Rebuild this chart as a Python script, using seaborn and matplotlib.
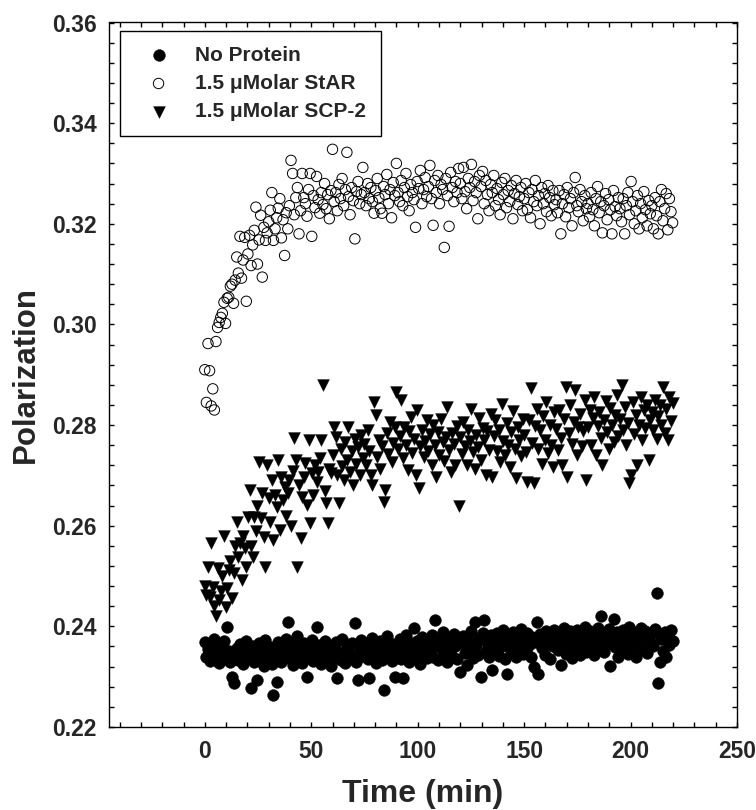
import numpy as np
import pandas as pd
import matplotlib
matplotlib.use("Agg")
import matplotlib.pyplot as plt
import seaborn as sns
from matplotlib.ticker import MultipleLocator

# sampling interval of the recordings (min)
dt = 0.75

no_protein = [
    0.2368, 0.2340, 0.2355, 0.2332, 0.2362, 0.2346, 0.2374, 0.2338, 0.2350, 0.2328, 0.2360, 0.2344, 0.2370, 0.2336, 0.2399, 0.2352, 0.2330, 0.2299, 0.2287, 0.2348,
    0.2356, 0.2334, 0.2364, 0.2342, 0.2325, 0.2352, 0.2370, 0.2338, 0.2346, 0.2277, 0.2360, 0.2330, 0.2348, 0.2293, 0.2366, 0.2340, 0.2354, 0.2322, 0.2372, 0.2344,
    0.2336, 0.2358, 0.2326, 0.2264, 0.2350, 0.2290, 0.2368, 0.2342, 0.2330, 0.2362, 0.2344, 0.2374, 0.2409, 0.2338, 0.2356, 0.2324, 0.2364, 0.2346, 0.2380, 0.2334,
    0.2352, 0.2328, 0.2366, 0.2340, 0.2299, 0.2358, 0.2344, 0.2372, 0.2332, 0.2354, 0.2399, 0.2338, 0.2362, 0.2326, 0.2348, 0.2370, 0.2336, 0.2356, 0.2342, 0.2322,
    0.2360, 0.2340, 0.2368, 0.2297, 0.2350, 0.2334, 0.2374, 0.2346, 0.2328, 0.2362, 0.2352, 0.2338, 0.2366, 0.2344, 0.2406, 0.2330, 0.2293, 0.2356, 0.2372, 0.2342,
    0.2350, 0.2364, 0.2336, 0.2297, 0.2358, 0.2376, 0.2342, 0.2328, 0.2362, 0.2348, 0.2370, 0.2334, 0.2273, 0.2356, 0.2380, 0.2340, 0.2366, 0.2332, 0.2352, 0.2299,
    0.2362, 0.2344, 0.2374, 0.2336, 0.2297, 0.2358, 0.2382, 0.2348, 0.2330, 0.2366, 0.2352, 0.2397, 0.2340, 0.2370, 0.2356, 0.2326, 0.2378, 0.2346, 0.2364, 0.2338,
    0.2368, 0.2350, 0.2382, 0.2340, 0.2412, 0.2362, 0.2334, 0.2374, 0.2356, 0.2388, 0.2346, 0.2366, 0.2330, 0.2378, 0.2358, 0.2342, 0.2384, 0.2360, 0.2336, 0.2372,
    0.2309, 0.2366, 0.2380, 0.2348, 0.2323, 0.2372, 0.2356, 0.2390, 0.2338, 0.2408, 0.2362, 0.2344, 0.2376, 0.2299, 0.2386, 0.2412, 0.2352, 0.2368, 0.2340, 0.2382,
    0.2313, 0.2370, 0.2354, 0.2386, 0.2342, 0.2374, 0.2360, 0.2392, 0.2336, 0.2305, 0.2366, 0.2380, 0.2350, 0.2388, 0.2358, 0.2340, 0.2376, 0.2364, 0.2394, 0.2346,
    0.2372, 0.2352, 0.2386, 0.2362, 0.2340, 0.2378, 0.2319, 0.2368, 0.2408, 0.2305, 0.2384, 0.2356, 0.2374, 0.2344, 0.2390, 0.2364, 0.2336, 0.2380, 0.2360, 0.2392,
    0.2376, 0.2354, 0.2388, 0.2323, 0.2368, 0.2396, 0.2346, 0.2380, 0.2360, 0.2390, 0.2338, 0.2374, 0.2356, 0.2392, 0.2366, 0.2344, 0.2384, 0.2362, 0.2398, 0.2350,
    0.2374, 0.2390, 0.2356, 0.2382, 0.2344, 0.2368, 0.2396, 0.2360, 0.2420, 0.2378, 0.2350, 0.2386, 0.2364, 0.2394, 0.2321, 0.2372, 0.2414, 0.2358, 0.2388, 0.2340,
    0.2378, 0.2356, 0.2392, 0.2366, 0.2384, 0.2346, 0.2398, 0.2372, 0.2360, 0.2388, 0.2340, 0.2380, 0.2364, 0.2396, 0.2354, 0.2376, 0.2390, 0.2348, 0.2384, 0.2368,
    0.2386, 0.2360, 0.2394, 0.2466, 0.2287, 0.2329, 0.2374, 0.2352, 0.2388, 0.2340, 0.2380, 0.2362, 0.2392, 0.2370,
]

star = [
    0.2910, 0.2845, 0.2962, 0.2908, 0.2838, 0.2872, 0.2830, 0.2966, 0.2994, 0.3004, 0.3014, 0.3022, 0.3044, 0.3002, 0.3052, 0.3054, 0.3076, 0.3080, 0.3042, 0.3088,
    0.3134, 0.3102, 0.3175, 0.3092, 0.3128, 0.3173, 0.3046, 0.3140, 0.3177, 0.3117, 0.3158, 0.3187, 0.3233, 0.3120, 0.3168, 0.3217, 0.3094, 0.3193, 0.3167, 0.3182,
    0.3204, 0.3227, 0.3262, 0.3167, 0.3190, 0.3212, 0.3231, 0.3250, 0.3172, 0.3208, 0.3137, 0.3222, 0.3190, 0.3236, 0.3326, 0.3300, 0.3218, 0.3252, 0.3272, 0.3180,
    0.3226, 0.3300, 0.3252, 0.3240, 0.3215, 0.3268, 0.3300, 0.3175, 0.3256, 0.3232, 0.3294, 0.3248, 0.3221, 0.3262, 0.3238, 0.3280, 0.3230, 0.3258, 0.3210, 0.3266,
    0.3348, 0.3244, 0.3262, 0.3226, 0.3278, 0.3250, 0.3290, 0.3236, 0.3268, 0.3342, 0.3254, 0.3218, 0.3272, 0.3246, 0.3170, 0.3264, 0.3284, 0.3240, 0.3258, 0.3312,
    0.3262, 0.3236, 0.3280, 0.3250, 0.3272, 0.3244, 0.3221, 0.3266, 0.3290, 0.3252, 0.3230, 0.3221, 0.3274, 0.3258, 0.3298, 0.3240, 0.3268, 0.3212, 0.3282, 0.3256,
    0.3320, 0.3262, 0.3244, 0.3286, 0.3236, 0.3272, 0.3300, 0.3254, 0.3226, 0.3278, 0.3262, 0.3248, 0.3193, 0.3284, 0.3270, 0.3306, 0.3240, 0.3268, 0.3292, 0.3254,
    0.3274, 0.3316, 0.3250, 0.3197, 0.3286, 0.3262, 0.3296, 0.3240, 0.3278, 0.3268, 0.3153, 0.3290, 0.3256, 0.3195, 0.3302, 0.3272, 0.3244, 0.3284, 0.3262, 0.3310,
    0.3280, 0.3250, 0.3312, 0.3264, 0.3230, 0.3290, 0.3272, 0.3318, 0.3246, 0.3284, 0.3262, 0.3210, 0.3296, 0.3274, 0.3304, 0.3240, 0.3286, 0.3258, 0.3226, 0.3278,
    0.3262, 0.3296, 0.3236, 0.3270, 0.3248, 0.3218, 0.3282, 0.3258, 0.3290, 0.3232, 0.3266, 0.3244, 0.3276, 0.3210, 0.3260, 0.3286, 0.3238, 0.3254, 0.3272, 0.3226,
    0.3250, 0.3280, 0.3228, 0.3262, 0.3212, 0.3268, 0.3244, 0.3286, 0.3236, 0.3256, 0.3200, 0.3272, 0.3240, 0.3260, 0.3224, 0.3276, 0.3252, 0.3216, 0.3266, 0.3238,
    0.3248, 0.3222, 0.3266, 0.3180, 0.3240, 0.3258, 0.3214, 0.3272, 0.3232, 0.3250, 0.3196, 0.3262, 0.3292, 0.3236, 0.3224, 0.3268, 0.3244, 0.3206, 0.3256, 0.3230,
    0.3240, 0.3214, 0.3262, 0.3228, 0.3196, 0.3250, 0.3274, 0.3222, 0.3244, 0.3182, 0.3236, 0.3260, 0.3208, 0.3248, 0.3228, 0.3180, 0.3266, 0.3234, 0.3216, 0.3252,
    0.3230, 0.3204, 0.3250, 0.3180, 0.3236, 0.3262, 0.3218, 0.3284, 0.3244, 0.3200, 0.3226, 0.3256, 0.3190, 0.3240, 0.3212, 0.3264, 0.3228, 0.3196, 0.3246, 0.3220,
    0.3236, 0.3190, 0.3252, 0.3216, 0.3180, 0.3244, 0.3268, 0.3206, 0.3230, 0.3260, 0.3188, 0.3250, 0.3224, 0.3202,
]

scp2 = [
    0.2480, 0.2462, 0.2518, 0.2458, 0.2566, 0.2478, 0.2440, 0.2420, 0.2516, 0.2452, 0.2470, 0.2500, 0.2580, 0.2438, 0.2476, 0.2512, 0.2530, 0.2456, 0.2506, 0.2560,
    0.2607, 0.2538, 0.2565, 0.2492, 0.2580, 0.2555, 0.2518, 0.2617, 0.2671, 0.2560, 0.2538, 0.2617, 0.2590, 0.2640, 0.2726, 0.2615, 0.2665, 0.2577, 0.2518, 0.2720,
    0.2655, 0.2607, 0.2690, 0.2571, 0.2661, 0.2638, 0.2730, 0.2591, 0.2696, 0.2651, 0.2676, 0.2620, 0.2665, 0.2690, 0.2600, 0.2708, 0.2774, 0.2730, 0.2518, 0.2680,
    0.2575, 0.2657, 0.2696, 0.2724, 0.2642, 0.2770, 0.2605, 0.2704, 0.2661, 0.2720, 0.2686, 0.2706, 0.2734, 0.2770, 0.2879, 0.2668, 0.2645, 0.2605, 0.2712, 0.2704,
    0.2740, 0.2796, 0.2776, 0.2700, 0.2645, 0.2752, 0.2718, 0.2690, 0.2766, 0.2730, 0.2796, 0.2706, 0.2748, 0.2680, 0.2772, 0.2722, 0.2756, 0.2700, 0.2780, 0.2734,
    0.2762, 0.2720, 0.2790, 0.2748, 0.2700, 0.2680, 0.2845, 0.2820, 0.2736, 0.2770, 0.2712, 0.2758, 0.2647, 0.2670, 0.2784, 0.2742, 0.2806, 0.2726, 0.2764, 0.2796,
    0.2865, 0.2752, 0.2778, 0.2850, 0.2734, 0.2796, 0.2760, 0.2710, 0.2788, 0.2816, 0.2744, 0.2772, 0.2700, 0.2830, 0.2675, 0.2758, 0.2790, 0.2736, 0.2768, 0.2810,
    0.2748, 0.2782, 0.2720, 0.2800, 0.2760, 0.2696, 0.2786, 0.2740, 0.2812, 0.2766, 0.2728, 0.2776, 0.2836, 0.2750, 0.2706, 0.2784, 0.2762, 0.2720, 0.2798, 0.2639,
    0.2776, 0.2742, 0.2806, 0.2758, 0.2720, 0.2790, 0.2768, 0.2832, 0.2746, 0.2712, 0.2780, 0.2756, 0.2814, 0.2730, 0.2794, 0.2770, 0.2700, 0.2788, 0.2750, 0.2822,
    0.2696, 0.2778, 0.2810, 0.2748, 0.2790, 0.2726, 0.2842, 0.2768, 0.2740, 0.2804, 0.2760, 0.2716, 0.2786, 0.2828, 0.2752, 0.2694, 0.2796, 0.2770, 0.2738, 0.2812,
    0.2780, 0.2746, 0.2686, 0.2810, 0.2873, 0.2764, 0.2685, 0.2798, 0.2832, 0.2752, 0.2790, 0.2722, 0.2818, 0.2770, 0.2846, 0.2744, 0.2800, 0.2760, 0.2716, 0.2826,
    0.2792, 0.2750, 0.2830, 0.2774, 0.2720, 0.2812, 0.2875, 0.2696, 0.2784, 0.2840, 0.2762, 0.2806, 0.2869, 0.2740, 0.2796, 0.2822, 0.2758, 0.2788, 0.2850, 0.2690,
    0.2796, 0.2830, 0.2760, 0.2814, 0.2856, 0.2740, 0.2798, 0.2826, 0.2774, 0.2720, 0.2810, 0.2848, 0.2786, 0.2752, 0.2834, 0.2800, 0.2766, 0.2820, 0.2860, 0.2778,
    0.2812, 0.2879, 0.2790, 0.2836, 0.2760, 0.2804, 0.2685, 0.2700, 0.2846, 0.2782, 0.2820, 0.2720, 0.2800, 0.2856, 0.2770, 0.2830, 0.2794, 0.2840, 0.2730, 0.2810,
    0.2826, 0.2790, 0.2850, 0.2772, 0.2818, 0.2840, 0.2800, 0.2875, 0.2784, 0.2832, 0.2770, 0.2856, 0.2808, 0.2844,
]

labels = ["No Protein", "1.5 \u03bcMolar StAR", "1.5 \u03bcMolar SCP-2"]
x_ticks = [0, 50, 100, 150, 200, 250]
y_ticks = [0.22, 0.24, 0.26, 0.28, 0.30, 0.32, 0.34, 0.36]

sns.set_style("ticks")
fam = ["Liberation Sans", "DejaVu Sans"]
plt.rcParams["font.family"] = fam
plt.rcParams["font.weight"] = "bold"

fig = plt.figure(figsize=(7.56, 8.1), dpi=100)
ax = fig.add_axes([109 / 756, 1 - 727 / 810, 628 / 756, 704.5 / 810])

def frame(vals):
    return pd.DataFrame({"Time": np.arange(len(vals)) * dt, "Polarization": vals})

d0, d1, d2 = frame(no_protein), frame(star), frame(scp2)

sns.scatterplot(data=d0, x="Time", y="Polarization", ax=ax, marker="o", s=72,
                color="black", edgecolor="black", linewidth=0.3, label=labels[0], zorder=3)
sns.scatterplot(data=d1, x="Time", y="Polarization", ax=ax, marker="o", s=56,
                facecolor="none", edgecolor="black", linewidth=0.7, label=labels[1], zorder=3)
sns.scatterplot(data=d2, x="Time", y="Polarization", ax=ax, marker="v", s=72,
                color="black", edgecolor="black", linewidth=0.3, label=labels[2], zorder=3)

ax.set_xlim(-45, 250)
ax.set_ylim(0.22, 0.36)
ax.set_xticks(x_ticks)
ax.set_yticks(y_ticks)
ax.set_xticklabels([str(v) for v in x_ticks])
ax.set_yticklabels(["%.2f" % v for v in y_ticks])
ax.xaxis.set_minor_locator(MultipleLocator(10))
ax.yaxis.set_minor_locator(MultipleLocator(0.004))
ax.tick_params(which="both", direction="in", top=True, right=True,
               length=3.5, width=1.0, color="black")
ax.tick_params(axis="x", which="major", pad=9, labelsize=16.5)
ax.tick_params(axis="y", which="major", pad=9, labelsize=16.5)
for lab in ax.get_xticklabels() + ax.get_yticklabels():
    lab.set_fontweight("bold")
for sp in ax.spines.values():
    sp.set_visible(True)
    sp.set_linewidth(1.0)
    sp.set_color("black")

ax.set_xlabel("Time (min)", fontsize=23, fontweight="bold", labelpad=12)
ax.set_ylabel("Polarization", fontsize=22.5, fontweight="bold", labelpad=8)

leg = ax.legend(loc="upper left", bbox_to_anchor=(11 / 628, 1 - 8.5 / 704.5),
                borderaxespad=0, frameon=True, fancybox=False, shadow=False,
                prop={"family": fam, "weight": "bold", "size": 15},
                handlelength=2.3, handletextpad=0.6, borderpad=0.7,
                labelspacing=0.45, scatterpoints=1)
leg.get_frame().set_edgecolor("black")
leg.get_frame().set_linewidth(1.0)
leg.get_frame().set_facecolor("white")
leg.get_frame().set_alpha(1)

fig.savefig("out.png", dpi=100)
